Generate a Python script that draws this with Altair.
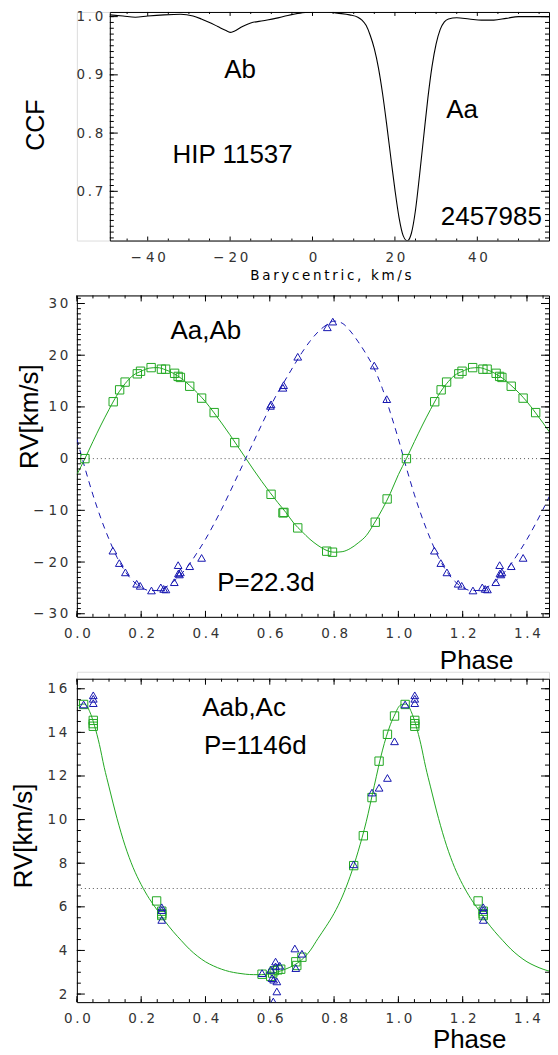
import altair as alt
import pandas as pd

# ---------------- Panel 1 : CCF ----------------
ccf_velocity = [-49.2, -46, -43, -40, -36, -32, -29, -27, -25, -23, -21, -20, -19, -17, -15, -12, -9, -6, -3, 0,
                3, 6, 9, 11, 12, 13, 14, 15, 16, 17, 18, 19, 20, 21, 22, 23, 24, 25, 26, 27,
                28, 29, 30, 31, 32, 33, 35, 38, 41, 44, 47, 50, 54, 57.9]
ccf_value = [1.003, 1.001, 0.999, 1.001, 1.003, 1.004, 1.001, 0.996, 0.990, 0.983, 0.976, 0.973, 0.975, 0.983, 0.989, 0.993, 0.997, 1.002, 1.006, 1.008,
             1.009, 1.006, 1.003, 0.999, 0.994, 0.985, 0.968, 0.945, 0.912, 0.868, 0.815, 0.758, 0.703, 0.655, 0.624, 0.615, 0.628, 0.668, 0.729, 0.795,
             0.860, 0.914, 0.953, 0.978, 0.991, 0.996, 0.998, 0.996, 0.994, 0.994, 0.997, 1.000, 1.000, 1.000]
ccf_text = ["Ab", "Aa", "HIP 11537", "2457985"]
ccf_text_x = [-17.6, 36.3, -19.4, 43.4]
ccf_text_y = [0.909, 0.840, 0.763, 0.656]

# ---------------- Panel 2 : Aa,Ab  P=22.3d ----------------
p2_grid = [0.000, 0.025, 0.050, 0.075, 0.100, 0.125, 0.150, 0.175, 0.200, 0.225, 0.250, 0.275, 0.300, 0.325,
           0.350, 0.375, 0.400, 0.425, 0.450, 0.475, 0.500, 0.525, 0.550, 0.575, 0.600, 0.625, 0.650, 0.675,
           0.700, 0.725, 0.750, 0.775, 0.800, 0.825, 0.850, 0.875, 0.900, 0.925, 0.950, 0.975, 1.000]
p2_aa_curve = [-3.1, 0.0, 3.3, 6.5, 9.5, 12.3, 14.5, 16.1, 16.9, 17.5, 17.6, 17.2, 16.5, 15.5,
               14.2, 12.7, 11.0, 9.0, 6.9, 4.7, 2.4, 0.1, -2.2, -4.4, -6.5, -8.5, -10.4, -12.5,
               -14.1, -15.6, -16.8, -17.7, -18.1, -18.0, -17.4, -16.3, -14.9, -12.5, -9.8, -6.7, -3.1]
p2_ab_curve = [3.8, -1.8, -7.0, -11.6, -15.6, -19.1, -21.8, -23.7, -24.9, -25.5, -25.5, -24.9, -23.8, -22.3,
               -20.4, -18.1, -15.6, -12.8, -9.8, -6.6, -3.3, 0.0, 3.3, 6.6, 9.8, 12.8, 15.4, 18.0,
               20.5, 22.7, 24.5, 25.8, 26.6, 26.2, 24.7, 22.6, 20.2, 17.4, 13.6, 8.9, 3.8]
p2_aa_phase = [0.025, 0.113, 0.133, 0.150, 0.188, 0.198, 0.231, 0.263, 0.276, 0.304, 0.315, 0.322, 0.351, 0.388,
               0.427, 0.491, 0.604, 0.641, 0.644, 0.687, 0.777, 0.795, 0.928, 0.965]
p2_aa_rv = [0.0, 11.0, 13.3, 14.8, 16.4, 16.9, 17.6, 17.3, 17.3, 16.5, 15.9, 15.7, 14.0, 11.7,
            8.9, 3.1, -6.9, -10.5, -10.4, -13.4, -17.9, -18.1, -12.3, -7.8]
p2_ab_phase = [0.112, 0.132, 0.151, 0.186, 0.197, 0.232, 0.261, 0.270, 0.277, 0.303, 0.315, 0.316, 0.319, 0.322,
               0.351, 0.388, 0.602, 0.604, 0.641, 0.643, 0.687, 0.779, 0.796, 0.925, 0.964]
p2_ab_rv = [-17.8, -20.2, -22.0, -24.2, -24.6, -25.5, -24.9, -25.2, -25.3, -23.9, -20.6, -22.2, -22.4, -22.0,
            -20.8, -19.2, 10.2, 10.5, 13.7, 14.2, 19.7, 25.4, 26.5, 18.0, 11.5]
p2_text = ["Aa,Ab", "P=22.3d"]
p2_text_x = [0.401, 0.588]
p2_text_y = [24.7, -24.1]

# ---------------- Panel 3 : Aab,Ac  P=1146d ----------------
p3_grid = [0.000, 0.010, 0.025, 0.040, 0.055, 0.070, 0.085, 0.100, 0.125, 0.150, 0.175, 0.200, 0.225, 0.250,
           0.275, 0.300, 0.325, 0.350, 0.375, 0.400, 0.425, 0.450, 0.475, 0.500, 0.525, 0.550, 0.575, 0.600,
           0.625, 0.650, 0.675, 0.700, 0.725, 0.750, 0.775, 0.800, 0.825, 0.850, 0.875, 0.900, 0.925, 0.950,
           0.975, 0.990, 1.000]
p3_curve = [15.15, 15.28, 15.30, 14.95, 14.30, 13.45, 12.40, 11.50, 10.05, 8.80, 7.80, 7.02, 6.38, 5.85,
            5.32, 4.86, 4.45, 4.06, 3.74, 3.48, 3.29, 3.14, 3.03, 2.96, 2.91, 2.89, 2.89, 2.93,
            3.02, 3.15, 3.32, 3.58, 3.98, 4.55, 5.10, 5.70, 6.45, 7.40, 8.55, 9.90, 11.55, 13.15,
            14.35, 14.85, 15.15]
p3_sq_phase = [0.021, 0.051, 0.051, 0.051, 0.248, 0.264, 0.264, 0.264, 0.576, 0.603, 0.609, 0.614, 0.625, 0.634,
               0.681, 0.684, 0.700, 0.861, 0.891, 0.918, 0.940, 0.966, 0.988]
p3_sq_rv = [15.28, 14.55, 14.40, 14.28, 6.27, 5.80, 5.68, 5.60, 2.91, 2.81, 2.96, 3.07, 3.11, 3.14,
            3.48, 3.31, 3.69, 7.89, 9.26, 11.01, 12.68, 13.91, 14.75]
p3_tri_phase = [0.021, 0.051, 0.051, 0.051, 0.264, 0.264, 0.264, 0.576, 0.603, 0.607, 0.612, 0.618, 0.618, 0.622,
                0.622, 0.611, 0.631, 0.678, 0.681, 0.700, 0.861, 0.918, 0.940, 0.966, 0.988]
p3_tri_rv = [15.28, 15.70, 15.54, 15.34, 5.98, 5.85, 5.40, 2.96, 3.11, 2.73, 2.66, 3.49, 3.27, 2.58,
             2.12, 1.66, 3.30, 4.09, 3.19, 3.85, 7.95, 11.24, 11.46, 11.91, 13.59]
p3_gamma = [6.84]
p3_text = ["Aab,Ac", "P=1146d"]
p3_text_x = [0.520, 0.555]
p3_text_y = [15.13, 13.38]

# ---------------- ticks ----------------
p1_x_major = [-40, -20, 0, 20, 40]
p1_x_minor = [-45, -35, -30, -25, -15, -10, -5, 5, 10, 15, 25, 30, 35, 45, 50, 55]
p1_y_major = [0.7, 0.8, 0.9, 1.0]
p1_y_minor = [round(0.62 + 0.01 * i, 2) for i in range(39)]
ph_major = [0.0, 0.2, 0.4, 0.6, 0.8, 1.0, 1.2, 1.4]
ph_minor = [round(0.05 * i, 2) for i in range(30)]
p2_y_major = [-30, -20, -10, 0, 10, 20, 30]
p2_y_minor = list(range(-30, 32))
p3_y_major = [2, 4, 6, 8, 10, 12, 14, 16]
p3_y_minor = [2 + 0.5 * i for i in range(29)]

# ---------------- styles ----------------
GREEN = "#22a822"
BLUE = "#1616b0"
BLACK = "#000000"
LABEL_FONT = "DejaVu Sans"
TITLE_FONT = "Liberation Sans"
TH = "\u2009"
MINUS = "\u2212 "


def fold(phases, values, limit):
    ph = list(phases) + [p + 1.0 for p in phases if 0 < p <= limit]
    vv = list(values) + [v for p, v in zip(phases, values) if 0 < p <= limit]
    return pd.DataFrame({"x": ph, "y": vv})


def scl(dom, rng):
    return alt.Scale(domain=dom, range=rng, nice=False, zero=False)


def edge_axis(orient, offset):
    return alt.Axis(orient=orient, offset=offset, ticks=False, labels=False, domain=True,
                    domainColor=BLACK, domainWidth=1, grid=False, title=None)


def label_axis(orient, offset, values, expr, pad, title, tx, ty, angle, tfont, tsize, baseline=None):
    kw = dict(orient=orient, offset=offset, values=values, ticks=False, labels=True,
              labelExpr=expr, labelFont=LABEL_FONT, labelFontSize=13.5, labelColor="#333333",
              labelPadding=pad, labelFlush=False, labelOverlap=False,
              domain=True, domainColor=BLACK, domainWidth=1, grid=False,
              title=title, titleFont=tfont, titleFontSize=tsize, titleFontWeight="normal",
              titleColor=BLACK, titleX=tx, titleY=ty, titleAngle=angle, titleAlign="center",
              titleBaseline="middle")
    if baseline:
        kw["labelBaseline"] = baseline
    return alt.Axis(**kw)


def frame(W, H, xs, ys, xr, yr, xlab, ylab, xmaj, xmin, ymaj, ymin, xsz, ysz, anchor):
    """Box frame: labelled bottom/left axes, plain top/right axes, inward ticks on all four sides."""
    xa, xb = xr
    yb, yt = yr
    df = pd.DataFrame({"x": [anchor[0]], "y": [anchor[1]]})
    layers = [
        alt.Chart(df).mark_point(opacity=0).encode(
            x=alt.X("x:Q", scale=xs, axis=xlab), y=alt.Y("y:Q", scale=ys, axis=ylab)),
        alt.Chart(df).mark_point(opacity=0).encode(
            x=alt.X("x:Q", scale=xs, axis=edge_axis("top", -yt)),
            y=alt.Y("y:Q", scale=ys, axis=edge_axis("right", -(W - xb)))),
    ]
    for vals, size in ((xmaj, xsz[0]), (xmin, xsz[1])):
        base = alt.Chart(pd.DataFrame({"v": vals})).mark_rule(color=BLACK, strokeWidth=1)
        xe = alt.X("v:Q", scale=xs, axis=None)
        layers.append(base.encode(x=xe, y=alt.value(yb), y2=alt.value(yb - size)))
        layers.append(base.encode(x=xe, y=alt.value(yt), y2=alt.value(yt + size)))
    for vals, size in ((ymaj, ysz[0]), (ymin, ysz[1])):
        base = alt.Chart(pd.DataFrame({"v": vals})).mark_rule(color=BLACK, strokeWidth=1)
        ye = alt.Y("v:Q", scale=ys, axis=None)
        layers.append(base.encode(y=ye, x=alt.value(xa), x2=alt.value(xa + size)))
        layers.append(base.encode(y=ye, x=alt.value(xb), x2=alt.value(xb - size)))
    return layers


def texts(xs, ys, labels, tx, ty):
    df = pd.DataFrame({"x": tx, "y": ty, "t": labels})
    return alt.Chart(df).mark_text(font=TITLE_FONT, fontSize=26, color=BLACK, align="center",
                                   baseline="middle").encode(
        x=alt.X("x:Q", scale=xs, axis=None), y=alt.Y("y:Q", scale=ys, axis=None), text="t:N")


W = 473
num_x_expr = "join(split(format(datum.value, '.1f'), ''), '" + TH + "')"
signed_expr = "(datum.value < 0 ? '" + MINUS + "' : '') + join(split(format(abs(datum.value), 'd'), ''), '" + TH + "')"

# ----- panel 1 -----
H1 = 229
xs1 = scl([-49.2, 57.4], [33, W])
ys1 = scl([0.6155, 1.008], [H1, 0])
p1_xlab = label_axis("bottom", 0, p1_x_major, signed_expr, 17, TH.join("Barycentric, km/s"),
                     254, 35, 0, LABEL_FONT, 13.5, baseline="middle")
p1_ylab = label_axis("left", -33, p1_y_major, num_x_expr, 7, "CCF", -74, 113, 270, TITLE_FONT, 25)
ccf_df = pd.DataFrame({"x": ccf_velocity, "y": ccf_value})
p1_line = alt.Chart(ccf_df).mark_line(color=BLACK, strokeWidth=1.1, interpolate="monotone", clip=True).encode(
    x=alt.X("x:Q", scale=xs1, axis=None), y=alt.Y("y:Q", scale=ys1, axis=None))
p1 = alt.layer(p1_line, texts(xs1, ys1, ccf_text, ccf_text_x, ccf_text_y),
               *frame(W, H1, xs1, ys1, (33, W), (H1, 0), p1_xlab, p1_ylab,
                      p1_x_major, p1_x_minor, p1_y_major, p1_y_minor, (4, 2), (8, 4), (0, 0.8))
               ).resolve_axis(x="independent", y="independent").properties(width=W, height=H1)

# ----- panel 2 -----
H2 = 322
xs2 = scl([0, 1.4685], [0, W])
ys2 = scl([-30.6, 31.56], [H2, 0])
p2_xlab = label_axis("bottom", 0, ph_major, num_x_expr, 17, "Phase", 400, 44, 0, TITLE_FONT, 26, baseline="middle")
p2_ylab = label_axis("left", 0, p2_y_major, signed_expr, 9, "RV[km/s]", -47, 121, 270, TITLE_FONT, 26)
zero_df = pd.DataFrame({"y": [0.0]})
p2_zero = alt.Chart(zero_df).mark_rule(color="#555555", strokeDash=[1, 3], strokeWidth=1).encode(
    y=alt.Y("y:Q", scale=ys2, axis=None))
aa_line = alt.Chart(fold(p2_grid, p2_aa_curve, 0.5)).mark_line(color=GREEN, strokeWidth=1, interpolate="monotone", clip=True).encode(
    x=alt.X("x:Q", scale=xs2, axis=None), y=alt.Y("y:Q", scale=ys2, axis=None))
ab_line = alt.Chart(fold(p2_grid, p2_ab_curve, 0.5)).mark_line(color=BLUE, strokeWidth=1, strokeDash=[6, 5], interpolate="monotone", clip=True).encode(
    x=alt.X("x:Q", scale=xs2, axis=None), y=alt.Y("y:Q", scale=ys2, axis=None))
aa_pts = alt.Chart(fold(p2_aa_phase, p2_aa_rv, 0.5)).mark_point(shape="square", filled=False, size=70, color=GREEN, strokeWidth=1, opacity=1, clip=True).encode(
    x=alt.X("x:Q", scale=xs2, axis=None), y=alt.Y("y:Q", scale=ys2, axis=None))
ab_pts = alt.Chart(fold(p2_ab_phase, p2_ab_rv, 0.5)).mark_point(shape="triangle-up", filled=False, size=60, color=BLUE, strokeWidth=1, opacity=1, clip=True).encode(
    x=alt.X("x:Q", scale=xs2, axis=None), y=alt.Y("y:Q", scale=ys2, axis=None))
p2 = alt.layer(p2_zero, aa_line, ab_line, aa_pts, ab_pts, texts(xs2, ys2, p2_text, p2_text_x, p2_text_y),
               *frame(W, H2, xs2, ys2, (0, W), (H2, 0), p2_xlab, p2_ylab,
                      ph_major, ph_minor, p2_y_major, p2_y_minor, (6, 3), (8, 4), (0.5, 0))
               ).resolve_axis(x="independent", y="independent").properties(width=W, height=H2)

# ----- panel 3 -----
H3 = 331
xs3 = scl([0, 1.4685], [0, W])
ys3 = scl([1.63, 16.46], [H3, 7])
p3_yexpr = "join(split(format(datum.value, 'd'), ''), '" + TH + "')"
p3_xlab = label_axis("bottom", 0, ph_major, num_x_expr, 16, "Phase", 393, 37, 0, TITLE_FONT, 26, baseline="middle")
p3_ylab = label_axis("left", 0, p3_y_major, p3_yexpr, 10, "RV[km/s]", -53.5, 164, 270, TITLE_FONT, 26)
gam_df = pd.DataFrame({"y": p3_gamma})
p3_gam = alt.Chart(gam_df).mark_rule(color="#555555", strokeDash=[1, 3], strokeWidth=1).encode(
    y=alt.Y("y:Q", scale=ys3, axis=None))
p3_line = alt.Chart(fold(p3_grid, p3_curve, 0.5)).mark_line(color=GREEN, strokeWidth=1, interpolate="monotone", clip=True).encode(
    x=alt.X("x:Q", scale=xs3, axis=None), y=alt.Y("y:Q", scale=ys3, axis=None))
p3_sq = alt.Chart(fold(p3_sq_phase, p3_sq_rv, 0.5)).mark_point(shape="square", filled=False, size=70, color=GREEN, strokeWidth=1, opacity=1, clip=True).encode(
    x=alt.X("x:Q", scale=xs3, axis=None), y=alt.Y("y:Q", scale=ys3, axis=None))
p3_tri = alt.Chart(fold(p3_tri_phase, p3_tri_rv, 0.5)).mark_point(shape="triangle-up", filled=False, size=60, color=BLUE, strokeWidth=1, opacity=1, clip=True).encode(
    x=alt.X("x:Q", scale=xs3, axis=None), y=alt.Y("y:Q", scale=ys3, axis=None))
p3 = alt.layer(p3_gam, p3_line, p3_sq, p3_tri, texts(xs3, ys3, p3_text, p3_text_x, p3_text_y),
               *frame(W, H3, xs3, ys3, (0, W), (H3, 7), p3_xlab, p3_ylab,
                      ph_major, ph_minor, p3_y_major, p3_y_minor, (6, 3), (8, 4), (0.5, 8))
               ).resolve_axis(x="independent", y="independent").properties(width=W, height=H3)

chart = alt.vconcat(p1, p2, p3, spacing=55, bounds="flush").properties(
    padding={"left": 2, "top": 0, "right": 0, "bottom": 0}
).configure_view(stroke="transparent").configure(background="white")

chart.save("out.html", embed_options={"renderer": "svg", "actions": False})
